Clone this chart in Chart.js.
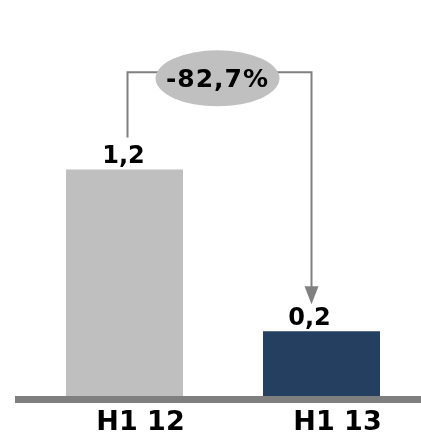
<!DOCTYPE html>
<html>
<head>
<meta charset="utf-8">
<script src="https://cdn.jsdelivr.net/npm/chart.js@4/dist/chart.umd.min.js"></script>
<style>
  html, body { margin: 0; padding: 0; background: #ffffff; }
  #wrap { width: 421px; height: 438px; }
</style>
</head>
<body>
<div id="wrap"><canvas id="c" width="421" height="438"></canvas></div>
<script>
const categories = ["H1 12", "H1 13"];
const values = [1.2, 0.2];
const barColors = ["#bfbfbf", "#243f60"];
const changeLabel = "-82,7%";
const axisMin = -0.2;
const axisMax = 2.0;
const connectorValue = 1.8;

const FONT = "'DejaVu Sans', Verdana, sans-serif";

const annotate = {
  id: "annotate",
  afterDatasetsDraw(chart) {
    const ctx = chart.ctx;
    const meta = chart.getDatasetMeta(0);
    const y = chart.scales.y;
    const b0 = meta.data[0], b1 = meta.data[1];
    const basePix = chart.chartArea.bottom;

    const leftX = b0.x + 3;
    const rightX = b1.x - 10;
    const topY = y.getPixelForValue(connectorValue);

    ctx.save();
    // baseline
    ctx.fillStyle = "#7f7f7f";
    ctx.fillRect(15, basePix, chart.width - 15, 7);

    // value labels (centred under the connector lines)
    ctx.fillStyle = "#000000";
    ctx.font = "bold 24px " + FONT;
    ctx.textAlign = "center";
    ctx.textBaseline = "alphabetic";
    const labelX = [leftX - 4, rightX - 2];
    meta.data.forEach((bar, i) => {
      ctx.fillText(String(values[i]).replace(".", ","), labelX[i], bar.y - 6);
    });

    // connectors
    ctx.strokeStyle = "#808080";
    ctx.lineWidth = 2;
    ctx.beginPath();
    ctx.moveTo(leftX, b0.y - 32);
    ctx.lineTo(leftX, topY);
    ctx.lineTo(rightX, topY);
    ctx.lineTo(rightX, b1.y - 40);
    ctx.stroke();
    // arrow head
    const tipY = b1.y - 27;
    ctx.fillStyle = "#808080";
    ctx.beginPath();
    ctx.moveTo(rightX - 7, tipY - 18);
    ctx.lineTo(rightX + 7, tipY - 18);
    ctx.lineTo(rightX, tipY);
    ctx.closePath();
    ctx.fill();

    // ellipse
    const cx = (leftX + rightX) / 2 - 2;
    const cy = topY + 6;
    ctx.fillStyle = "#c0c0c0";
    ctx.beginPath();
    ctx.ellipse(cx, cy, 62, 28, 0, 0, Math.PI * 2);
    ctx.fill();
    ctx.fillStyle = "#000000";
    ctx.font = "bold 25px " + FONT;
    ctx.textBaseline = "middle";
    try { ctx.letterSpacing = "1px"; } catch (e) {}
    ctx.fillText(changeLabel, cx, cy + 2);
    ctx.restore();
  }
};

new Chart(document.getElementById("c"), {
  type: "bar",
  data: {
    labels: categories,
    datasets: [{
      data: values,
      backgroundColor: barColors,
      borderWidth: 0,
      base: axisMin,
      barPercentage: 0.594,
      categoryPercentage: 1.0
    }]
  },
  options: {
    responsive: false,
    animation: false,
    devicePixelRatio: 1,
    layout: { padding: { left: 26, right: 1, top: 40, bottom: 0 } },
    plugins: { legend: { display: false }, tooltip: { enabled: false } },
    scales: {
      y: { display: false, min: axisMin, max: axisMax },
      x: {
        afterFit(scale) { scale.height = 42; },
        grid: { display: false, drawTicks: false },
        border: { display: false },
        ticks: { color: "#000000", padding: 11, labelOffset: 16, font: { family: FONT, size: 27, weight: "bold" } }
      }
    }
  },
  plugins: [annotate]
});
</script>
</body>
</html>
